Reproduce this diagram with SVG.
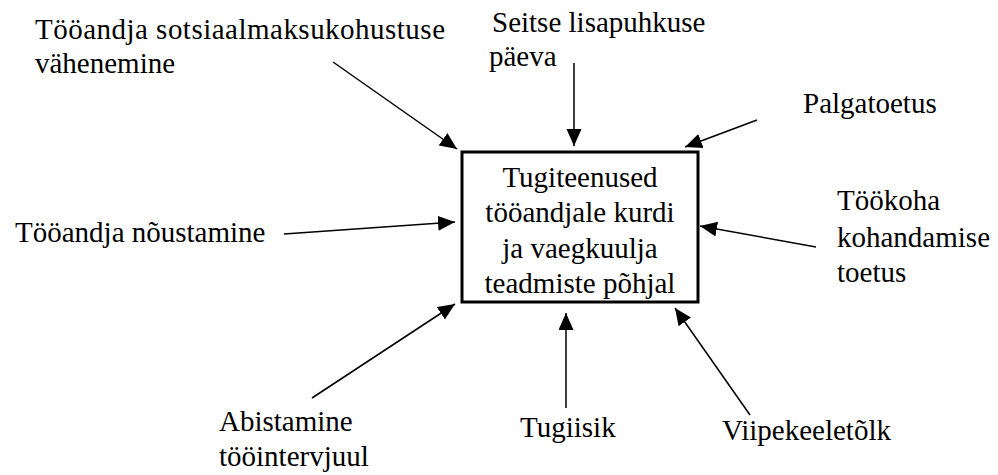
<svg xmlns="http://www.w3.org/2000/svg" width="998" height="475" viewBox="0 0 998 475">
  <style>
    text { font-family: "Liberation Serif", "Times New Roman", serif; font-size: 29px; fill: #000; }
    .center { text-anchor: middle; }
    .conn line { stroke: #000; stroke-width: 1.5; marker-end: url(#arrow); }
  </style>
  <defs>
    <marker id="arrow" markerUnits="userSpaceOnUse" markerWidth="18" markerHeight="16" refX="17" refY="7.5" orient="auto">
      <path d="M0,0 L17,7.5 L0,15 Z" fill="#000"/>
    </marker>
  </defs>
  <rect width="998" height="475" fill="#fff"/>

  <!-- central node -->
  <g id="hub">
    <rect x="462" y="152" width="236" height="150" fill="#fff" stroke="#000" stroke-width="3"/>
    <text class="center" x="580" y="186.5">Tugiteenused</text>
    <text class="center" x="580" y="222">tööandjale kurdi</text>
    <text class="center" x="580" y="257.5">ja vaegkuulja</text>
    <text class="center" x="580" y="293">teadmiste põhjal</text>
  </g>

  <!-- surrounding services -->
  <g id="sotsiaalmaks">
    <text x="35" y="38.5" textLength="410" lengthAdjust="spacing">Tööandja sotsiaalmaksukohustuse</text>
    <text x="35" y="73">vähenemine</text>
  </g>
  <g id="lisapuhkus">
    <text x="492" y="32">Seitse lisapuhkuse</text>
    <text x="489" y="66">päeva</text>
  </g>
  <g id="palgatoetus">
    <text x="803" y="113">Palgatoetus</text>
  </g>
  <g id="tookoht">
    <text x="837" y="210">Töökoha</text>
    <text x="837" y="246.5">kohandamise</text>
    <text x="837" y="281.5">toetus</text>
  </g>
  <g id="noustamine">
    <text x="15" y="241.5">Tööandja nõustamine</text>
  </g>
  <g id="toointervjuu">
    <text x="219" y="431">Abistamine</text>
    <text x="219" y="466">tööintervjuul</text>
  </g>
  <g id="tugiisik">
    <text x="520" y="437">Tugiisik</text>
  </g>
  <g id="viipekeel">
    <text x="722" y="440">Viipekeeletõlk</text>
  </g>

  <!-- connectors -->
  <g class="conn" id="connectors">
    <line x1="333" y1="62" x2="457" y2="149"/>
    <line x1="574" y1="63" x2="574" y2="146"/>
    <line x1="757" y1="120" x2="685" y2="147"/>
    <line x1="816" y1="247" x2="700" y2="226"/>
    <line x1="284" y1="234" x2="455" y2="222"/>
    <line x1="312" y1="398" x2="455" y2="304"/>
    <line x1="566" y1="408" x2="566" y2="313"/>
    <line x1="750" y1="415" x2="675" y2="308"/>
  </g>
</svg>
